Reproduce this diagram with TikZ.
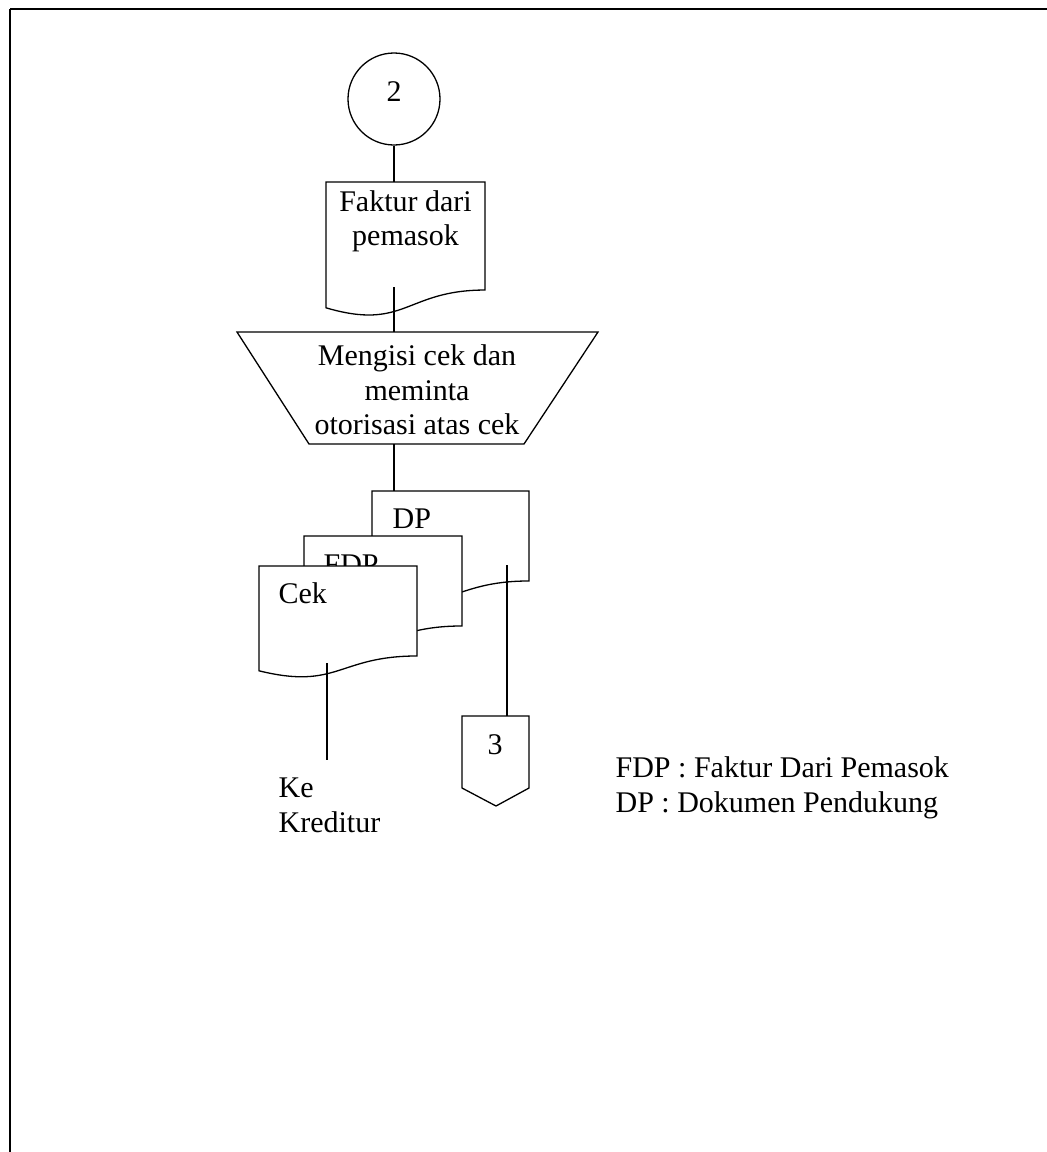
\documentclass[tikz,border=0pt]{standalone}
\usepackage{fontspec}
\setmainfont{Liberation Serif}
\usetikzlibrary{calc}

% document symbol: name, left, top, width, height
\newcommand{\dokumen}[5]{%
  \pgfmathsetmacro\dkR{#2+#4}%
  \pgfmathsetmacro\dkM{#2+0.5*#4}%
  \pgfmathsetmacro\dkA{#3+0.802*#5}%
  \pgfmathsetmacro\dkB{#3+1.1075*#5}%
  \pgfmathsetmacro\dkC{#3+0.934*#5}%
  \coordinate (#1) at (#2,#3);
  \filldraw[fill=white] (#2,#3) -- (\dkR,#3) -- (\dkR,\dkA)
    .. controls (\dkM,\dkA) and (\dkM,\dkB) .. (#2,\dkC) -- cycle;
}

\tikzset{
  teks/.style={inner sep=0pt, font=\fontsize{15}{17.25}\selectfont},
}

\begin{document}
\begin{tikzpicture}[x=0.5pt, y=-0.5pt, line width=0.65pt]
  \useasboundingbox (0,0) rectangle (1047,1152);
  % frame
  \draw[line width=1.2pt] (10,9) -- (1047,9);
  \draw[line width=0.8pt] (10,9) -- (10,1152);

  \node[draw, circle, minimum size=46pt, teks, text depth=7pt] (dua) at (394,99) {2};

  \dokumen{faktur}{326}{182}{159}{134.7}
  \node[teks, align=center] (fakturteks) at (405.5,221.5) {Faktur dari\\pemasok};
  \coordinate (faktur-ujung) at (394,287);

  % process
  \coordinate (isi-kiri) at (237,332);
  \coordinate (isi-kanan) at (598,332);
  \coordinate (isi-bawah) at (309,444);
  \draw (isi-kiri) -- (isi-kanan) -- (524,444) -- (isi-bawah) -- cycle;
  \node[teks, align=center] (isi) at (417,390) {Mengisi cek dan\\meminta\\otorisasi atas cek};

  % documents
  \dokumen{dp}{372}{491}{157}{112.2}
  \node[teks, anchor=north west] (dpteks) at (392,508) {DP};
  \dokumen{fdp}{304}{536}{158}{112.2}
  \node[teks, anchor=north west] (fdpteks) at (323,554) {FDP};
  \dokumen{cek}{259}{566}{158}{112.2}
  \node[teks, anchor=north west] (cekteks) at (278,582.5) {Cek};
  \coordinate (cek-ujung) at (327,663);
  \coordinate (dp-ujung) at (507,565);
  \coordinate (kreditur) at (327,760);

  % off-page connector
  \coordinate (tiga-kiri) at (462,716);
  \draw (tiga-kiri) -- (529,716) -- (529,788) -- (496,806) -- (462,788) -- cycle;
  \node[teks] (tiga) at (495,745) {3};

  \node[teks, anchor=north west, align=left] (ke) at (278,777.5) {Ke\\Kreditur};
  \node[teks, anchor=north west, align=left] (ket) at (615,756.5) {FDP : Faktur Dari Pemasok\\DP : Dokumen Pendukung};

  % lines
  \draw (dua.south) -- (dua.south |- faktur);
  \draw (faktur-ujung) -- (faktur-ujung |- isi-kiri);
  \draw (faktur-ujung |- isi-bawah) -- (faktur-ujung |- dp);
  \draw (cek-ujung) -- (kreditur);
  \draw (dp-ujung) -- (dp-ujung |- tiga-kiri);
\end{tikzpicture}
\end{document}
